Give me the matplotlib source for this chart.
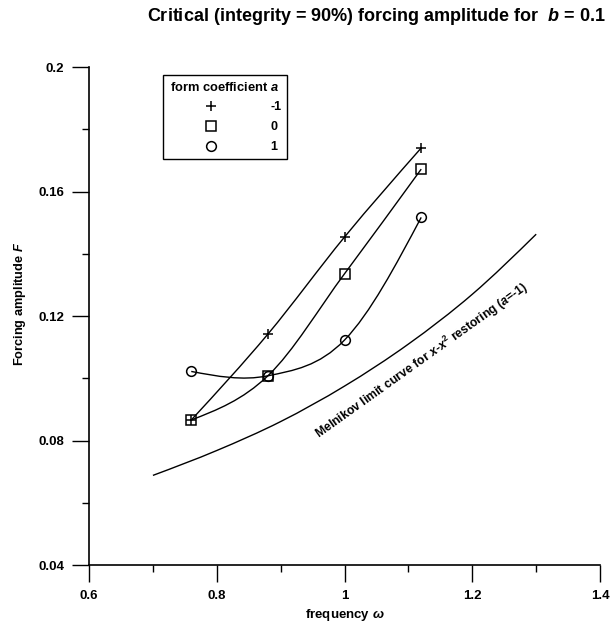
import numpy as np
import matplotlib
matplotlib.use("Agg")
import matplotlib.pyplot as plt
from matplotlib.path import Path
from matplotlib.patches import PathPatch
from matplotlib.lines import Line2D
from matplotlib.ticker import MultipleLocator, FuncFormatter

plt.rcParams['font.family'] = ['Liberation Sans', 'DejaVu Sans']
plt.rcParams['font.weight'] = 'bold'
plt.rcParams['axes.labelweight'] = 'bold'
plt.rcParams['mathtext.fontset'] = 'custom'
plt.rcParams['mathtext.rm'] = 'Liberation Sans:bold'
plt.rcParams['mathtext.it'] = 'Liberation Sans:italic:bold'
plt.rcParams['mathtext.bf'] = 'Liberation Sans:bold'

# critical forcing amplitude
omega = [0.76, 0.88, 1.0, 1.12]
F_a_minus1 = [0.0866, 0.1142, 0.1454, 0.1740]
F_a_0 = [0.0866, 0.1008, 0.1336, 0.1672]
F_a_1 = [0.1022, 0.1008, 0.1123, 0.1517]

# Melnikov limit curve for x - x^2 restoring (a = -1)
mel_omega = [0.7, 0.8, 0.9, 1.0, 1.1, 1.2, 1.3]
mel_F = [0.0688, 0.0768, 0.0861, 0.0975, 0.1110, 0.1270, 0.1463]


def smooth_path(xs, ys):
    """Cubic Bezier path through the points (spline-like tangents)."""
    p = np.column_stack([xs, ys]).astype(float)
    n = len(p)
    m = np.zeros_like(p)
    for i in range(1, n - 1):
        m[i] = (p[i + 1] - p[i - 1]) / 2
    m[0] = (3 * (p[1] - p[0]) - m[1]) / 2
    m[-1] = (3 * (p[-1] - p[-2]) - m[-2]) / 2
    verts = [p[0]]
    codes = [Path.MOVETO]
    for i in range(n - 1):
        verts += [p[i] + m[i] / 3, p[i + 1] - m[i + 1] / 3, p[i + 1]]
        codes += [Path.CURVE4] * 3
    return Path(verts, codes)


fig = plt.figure(figsize=(6.12, 6.22), dpi=100)
ax = fig.add_axes([0.1455, 0.0916, 0.835, 0.8006])

for ys in (F_a_minus1, F_a_0, F_a_1):
    ax.add_patch(PathPatch(smooth_path(omega, ys), fc='none', ec='black', lw=1.0))
ax.add_patch(PathPatch(smooth_path(mel_omega, mel_F), fc='none', ec='black', lw=1.0))

mk = dict(ls='none', color='black', mfc='none', mec='black', mew=1.1)
ax.plot(omega, F_a_minus1, marker='+', ms=7.5, **mk)
ax.plot(omega, F_a_0, marker='s', ms=6.5, **mk)
ax.plot(omega, F_a_1, marker='o', ms=7, **mk)

ax.text(1.12, 0.1055, r'Melnikov limit curve for $x$-$x^2$ restoring ($a$=-1)',
        rotation=35.5, rotation_mode='anchor', ha='center', va='center',
        fontsize=8.8)

ax.set_xlim(0.6, 1.4)
ax.set_ylim(0.04, 0.2)
ax.xaxis.set_major_locator(MultipleLocator(0.2))
ax.xaxis.set_minor_locator(MultipleLocator(0.1))
ax.yaxis.set_major_locator(MultipleLocator(0.04))
ax.yaxis.set_minor_locator(MultipleLocator(0.02))
fmt = FuncFormatter(lambda v, pos: f"{v:g}")
ax.xaxis.set_major_formatter(fmt)
ax.yaxis.set_major_formatter(fmt)
ax.tick_params(which='major', direction='out', length=12, width=1.0,
               labelsize=9.5, pad=6)
ax.tick_params(which='minor', direction='out', length=5, width=1.0)
for s in ('top', 'right'):
    ax.spines[s].set_visible(False)
for s in ('left', 'bottom'):
    ax.spines[s].set_linewidth(1.2)

ax.set_xlabel(r'frequency $\omega$', fontsize=9.5)
ax.xaxis.set_label_coords(0.501, -0.084)
ax.set_ylabel(r'Forcing amplitude $F$', fontsize=9.2)
ax.yaxis.set_label_coords(-0.12, 0.524)

handles = [
    Line2D([], [], marker='+', ms=7.5, **mk),
    Line2D([], [], marker='s', ms=6.5, **mk),
    Line2D([], [], marker='o', ms=7, **mk),
]
leg = ax.legend(handles, ['-1', '0', '1'], title='form coefficient $a$',
                loc='upper left', bbox_to_anchor=(0.145, 0.984),
                frameon=True, fancybox=False, framealpha=1, edgecolor='black',
                fontsize=9, title_fontsize=9.3, handlelength=6.8,
                handletextpad=1.3, labelspacing=0.62, borderpad=0.45,
                borderaxespad=0)
leg.get_frame().set_linewidth(1.0)

fig.text(0.615, 0.974, r'Critical (integrity = 90%) forcing amplitude for  $b$ = 0.1',
         ha='center', va='center', fontsize=13)

fig.savefig('out.png', dpi=100)
